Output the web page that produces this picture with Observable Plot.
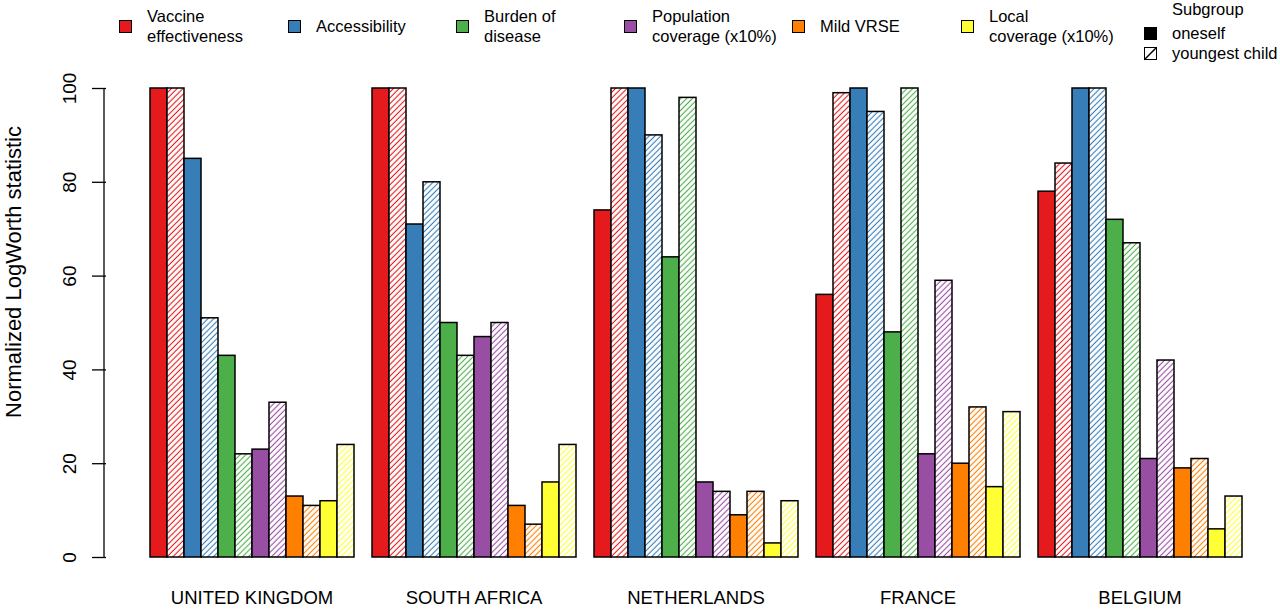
<!DOCTYPE html>
<html>
<head>
<meta charset="utf-8">
<script src="https://cdn.jsdelivr.net/npm/d3@7"></script>
<script src="https://cdn.jsdelivr.net/npm/@observablehq/plot@0.6"></script>
<style>
  body { margin: 0; background: #fff; }
  #wrap { position: relative; width: 1280px; height: 609px; font-family: "Liberation Sans", Arial, Helvetica, sans-serif; color: #000; }
  #chart { position: absolute; left: 0; top: 0; }
  .lg { position: absolute; font-size: 16.5px; line-height: 20px; white-space: nowrap; }
  .sq { position: absolute; width: 11px; height: 11px; border: 1px solid #000; }
  .ytitle { position: absolute; font-size: 22px; line-height: 26px; white-space: nowrap; transform-origin: center center; }
</style>
</head>
<body>
<div id="wrap">
  <div id="chart"></div>
</div>
<script>
// ---- data ----
const countries = ["UNITED KINGDOM", "SOUTH AFRICA", "NETHERLANDS", "FRANCE", "BELGIUM"];
const attributes = ["Vaccine effectiveness", "Accessibility", "Burden of disease", "Population coverage (x10%)", "Mild VRSE", "Local coverage (x10%)"];
const legendLines = [["Vaccine", "effectiveness"], ["Accessibility"], ["Burden of", "disease"], ["Population", "coverage (x10%)"], ["Mild VRSE"], ["Local", "coverage (x10%)"]];
const subgroups = ["oneself", "youngest child"];
const colors = ["#E41A1C", "#377EB8", "#4DAF4A", "#984EA3", "#FF7F00", "#FFFF33"];
// values per country, per attribute
const oneself = [
  [100, 85, 43, 23, 13, 12],
  [100, 71, 50, 47, 11, 16],
  [74, 100, 64, 16, 9, 3],
  [56, 100, 48, 22, 20, 15],
  [78, 100, 72, 21, 19, 6]
];
const youngestChild = [
  [100, 51, 22, 33, 11, 24],
  [100, 80, 43, 50, 7, 24],
  [100, 90, 98, 14, 14, 12],
  [99, 95, 100, 59, 32, 31],
  [84, 100, 67, 42, 21, 13]
];
const yTicks = [0, 20, 40, 60, 80, 100];

// ---- table ----
const rows = [];
countries.forEach((c, ci) => {
  attributes.forEach((a, ai) => {
    [oneself, youngestChild].forEach((src, si) => {
      rows.push({country: c, attr: ai, sub: si, idx: ai * 2 + si, value: src[ci][ai]});
    });
  });
});

const axisShift = -43;
const chart = Plot.plot({
  width: 1280,
  height: 609,
  marginLeft: 147,
  marginRight: 37,
  marginTop: 88,
  marginBottom: 52,
  style: {fontFamily: '"Liberation Sans", Arial, Helvetica, sans-serif', background: "white", color: "black"},
  fx: {domain: countries, paddingInner: 1 / 13, paddingOuter: 0, label: null},
  x: {domain: d3.range(12), padding: 0, axis: null},
  y: {domain: [0, 100], label: null},
  color: {type: "identity"},
  marks: [
    Plot.barY(rows, {
      fx: "country",
      x: "idx",
      y: "value",
      fill: d => d.sub === 0 ? colors[d.attr] : `url(#hatch${d.attr})`,
      stroke: "black",
      strokeWidth: 1.5
    }),
    Plot.axisY({ticks: yTicks, tickSize: 14, tickPadding: 16.5, dx: axisShift, tickRotate: -90, fontSize: 19, strokeWidth: 1.3, label: null}),
    Plot.axisFx({anchor: "bottom", tickSize: 0, tickPadding: 33, fontSize: 18.5, label: null})
  ]
});

// hatch patterns
const svg = d3.select(chart);
const defs = svg.insert("defs", ":first-child");
colors.forEach((col, i) => {
  const p = defs.append("pattern")
    .attr("id", `hatch${i}`)
    .attr("patternUnits", "userSpaceOnUse")
    .attr("width", 4.1)
    .attr("height", 4.1)
    .attr("patternTransform", "rotate(45)");
  p.append("rect").attr("width", 8).attr("height", 8).attr("fill", "white");
  p.append("line").attr("x1", 2).attr("x2", 2).attr("y1", 0).attr("y2", 8)
    .attr("stroke", col).attr("stroke-width", 1.1);
});

// y axis line from the y scale
const ys = chart.scale("y");
svg.append("line")
  .attr("x1", 147 + axisShift).attr("x2", 147 + axisShift)
  .attr("y1", ys.apply(0)).attr("y2", ys.apply(100))
  .attr("stroke", "black").attr("stroke-width", 1.3);

document.getElementById("chart").appendChild(chart);

// ---- legend ----
const wrap = document.getElementById("wrap");
function addDiv(cls, left, top, html, style) {
  const d = document.createElement("div");
  d.className = cls;
  d.style.left = left + "px";
  d.style.top = top + "px";
  if (html != null) d.innerHTML = html;
  if (style) Object.assign(d.style, style);
  wrap.appendChild(d);
  return d;
}
const sqLeft = [119, 288, 456, 624, 792, 961];
legendLines.forEach((lines, i) => {
  addDiv("sq", sqLeft[i], 20, null, {background: colors[i]});
  const top = lines.length === 2 ? 6.3 : 16.3;
  addDiv("lg", sqLeft[i] + 28, top, lines.join("<br>"));
});
addDiv("lg", 1172, -0.7, "Subgroup");
addDiv("sq", 1144, 27, null, {background: "#000"});
addDiv("lg", 1172, 23.3, subgroups[0]);
const hs = addDiv("sq", 1144, 47, null, {background: "white", overflow: "hidden"});
hs.innerHTML = '<svg width="11" height="11" style="display:block"><line x1="0" y1="11" x2="11" y2="0" stroke="black" stroke-width="1.5"/></svg>';
addDiv("lg", 1172, 43.3, subgroups[1]);

// y title
const yt = addDiv("ytitle", 0, 0, "Normalized LogWorth statistic");
const w = yt.offsetWidth, h = yt.offsetHeight;
yt.style.left = (14 - w / 2) + "px";
yt.style.top = (272 - h / 2) + "px";
yt.style.transform = "rotate(-90deg)";
</script>
</body>
</html>
